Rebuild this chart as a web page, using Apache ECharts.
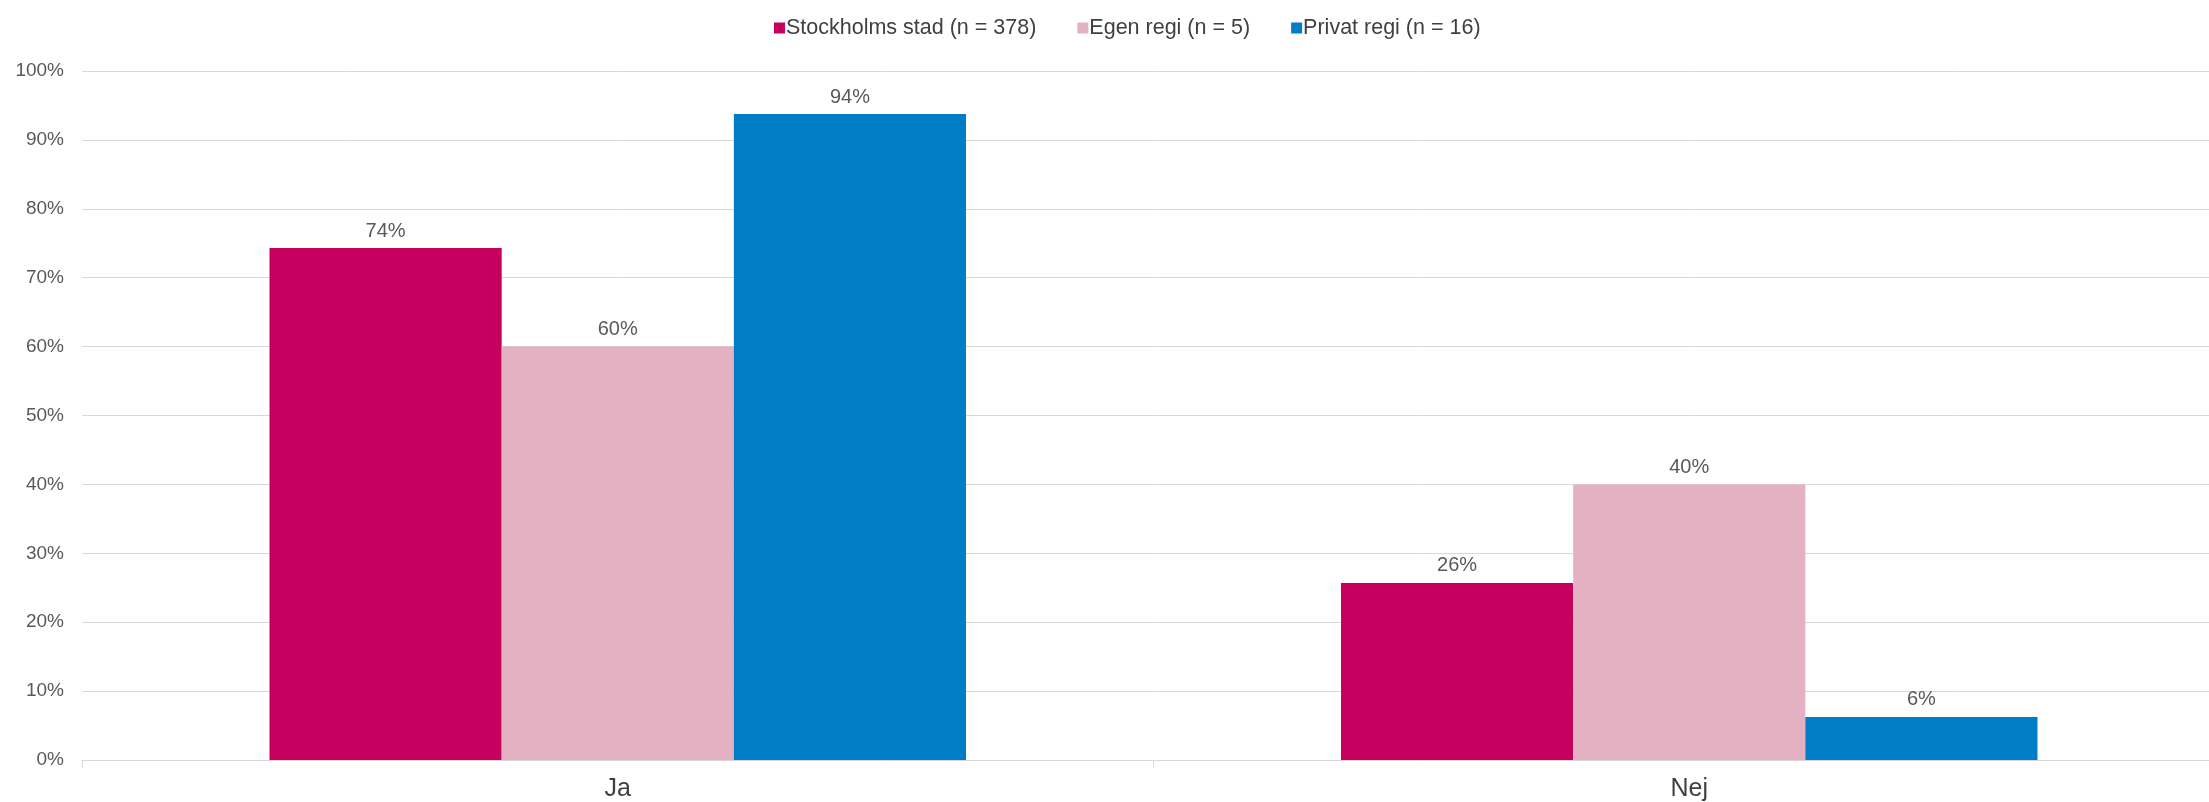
<!DOCTYPE html>
<html>
<head>
<meta charset="utf-8">
<script src="https://cdn.jsdelivr.net/npm/echarts@6/dist/echarts.min.js"></script>
<style>
  html, body { margin: 0; padding: 0; background: #fff; overflow: hidden; }
  #chart { width: 2225px; height: 802px; }
</style>
</head>
<body>
<div id="chart"></div>
<script>
// kategorier och värden (andel i procent)
var categories = ['Ja', 'Nej'];
var seriesNames = ['Stockholms stad (n = 378)', 'Egen regi (n = 5)', 'Privat regi (n = 16)'];
var stockholm = [74.3, 25.7];
var egenRegi = [60, 40];
var privatRegi = [93.75, 6.25];
var colors = ['#c5005f', '#e3b1c1', '#007ec5'];

var font = '"Liberation Sans Narrow", "Liberation Sans", Arial, sans-serif';

function bar(name, data, color) {
  return {
    name: name,
    type: 'bar',
    data: data,
    barGap: '0%',
    barCategoryGap: '35%',
    itemStyle: { color: color },
    label: {
      show: true,
      position: 'top',
      distance: 7,
      color: '#595959',
      fontFamily: font,
      fontSize: 20,
      formatter: function (p) { return Math.round(p.value) + '%' }
    }
  }
}

var myChart = echarts.init(document.getElementById('chart'));
myChart.setOption({
  animation: false,
  color: colors,
  legend: {
    top: 12,
    left: 769,
    itemWidth: 11,
    itemHeight: 11,
    itemGap: 41,
    icon: 'rect',
    textStyle: { color: '#404040', fontFamily: font, fontSize: 21.5, padding: [0, 0, 0, -4] },
    data: seriesNames
  },
  grid: {
    left: 82,
    right: 0,
    top: 71,
    bottom: 41
  },
  xAxis: {
    type: 'category',
    data: categories,
    axisLine: { lineStyle: { color: '#d9d9d9', width: 1 } },
    axisTick: { show: true, length: 8, lineStyle: { color: '#d9d9d9' } },
    axisLabel: { color: '#404040', fontFamily: font, fontSize: 25, margin: 17 }
  },
  yAxis: {
    type: 'value',
    min: 0,
    max: 100,
    interval: 10,
    axisLine: { show: false },
    axisTick: { show: false },
    splitLine: { lineStyle: { color: '#d9d9d9', width: 1 } },
    axisLabel: {
      color: '#595959',
      fontFamily: '"Liberation Sans", Arial, sans-serif',
      fontSize: 19,
      margin: 18,
      formatter: '{value}%'
    }
  },
  series: [
    bar(seriesNames[0], stockholm, colors[0]),
    bar(seriesNames[1], egenRegi, colors[1]),
    bar(seriesNames[2], privatRegi, colors[2])
  ]
});
</script>
</body>
</html>
